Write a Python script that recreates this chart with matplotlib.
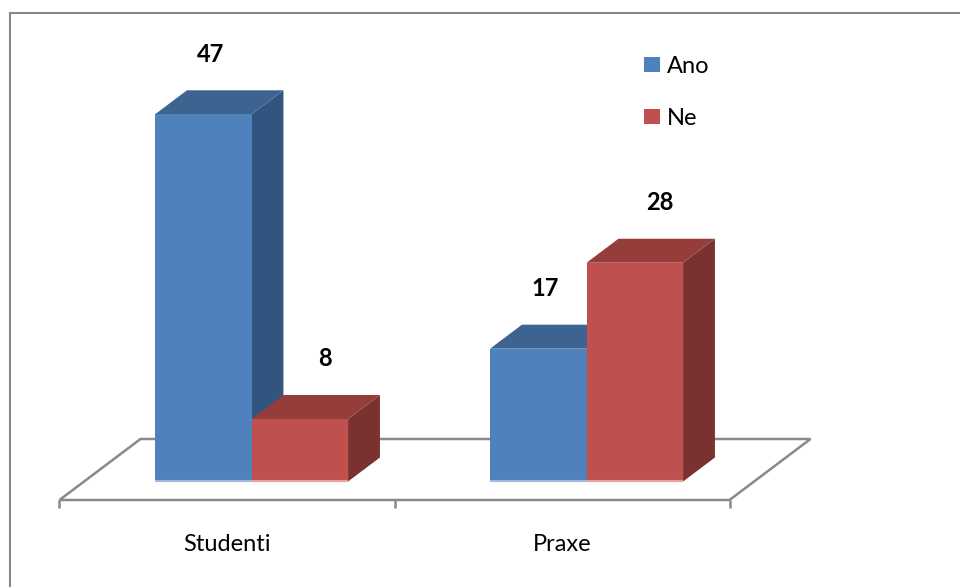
import matplotlib
matplotlib.use('Agg')
import matplotlib.pyplot as plt
from matplotlib.patches import Polygon, Rectangle

# data
categories = ['Studenti', 'Praxe']
series = ['Ano', 'Ne']
ano = [47, 17]
ne = [8, 28]
values = [ano, ne]

front_col = ['#4F81BD', '#C0504D']
top_col = ['#3D6491', '#943D3B']
side_col = ['#32557F', '#7A3130']
edge_col = ['#9DBAE0', '#E8A3A1']

plt.rcParams['font.family'] = ['Lato', 'DejaVu Sans']
FS = 17

# pixel scale of the drawing (x: category units, y: value units)
PX_X = 335.0
PX_Y = 7.813
depth = (81 / PX_X, 61 / PX_Y)      # full floor depth
f0, f1 = 18.5 / 61, 42.5 / 61       # bar front/back inside floor
bar_w = 96.5 / PX_X

fig = plt.figure(figsize=(9.6, 5.87), dpi=100)
ax = fig.add_axes([0, 0, 1, 1])
ax.axis('off')
ax.set_xlim(-59.5 / PX_X, (960 - 59.5) / PX_X)
ax.set_ylim((481.5 - 587) / PX_Y, 481.5 / PX_Y)

# floor
fy = -f0 * depth[1]
n = len(categories)
floor = Polygon([(0, fy), (n, fy), (n + depth[0], fy + depth[1]), (depth[0], fy + depth[1])],
                closed=True, facecolor='white', edgecolor='#898989', lw=1.8, zorder=1)
ax.add_patch(floor)
for i in range(n + 1):
    ax.plot([i, i], [fy, fy - 8 / PX_Y], color='#898989', lw=1.8, zorder=1,
            solid_capstyle='butt')
for i, cat in enumerate(categories):
    ax.text(i + 0.5, fy - 51 / PX_Y, cat, ha='center', va='baseline', fontsize=FS)

# 3d bars
ddx = (f1 - f0) * depth[0]
ddy = (f1 - f0) * depth[1]
sx = f0 * depth[0]
label_dx = [7 / PX_X, 25 / PX_X]
for i in range(n):
    for j in range(len(series)):
        v = values[j][i]
        x0 = i + 0.5 + sx - bar_w + j * bar_w
        x1 = x0 + bar_w
        z = 2 + j
        ax.add_patch(Polygon([(x1, 0), (x1 + ddx, ddy), (x1 + ddx, v + ddy), (x1, v)],
                             closed=True, facecolor=side_col[j], edgecolor='none', zorder=z))
        ax.add_patch(Polygon([(x0, v), (x1, v), (x1 + ddx, v + ddy), (x0 + ddx, v + ddy)],
                             closed=True, facecolor=top_col[j], edgecolor='none', zorder=z))
        ax.add_patch(Rectangle((x0, 0), bar_w, v, facecolor=front_col[j],
                               edgecolor='none', zorder=z))
        ax.plot([x0, x1], [0.12, 0.12], color=edge_col[j], lw=1.5, zorder=z,
                solid_capstyle='butt')
        ax.text(x0 + bar_w / 2 + label_dx[j], v + 60 / PX_Y, str(v), ha='center',
                va='center', fontsize=FS, fontweight='bold')

# legend
handles = [Rectangle((0, 0), 1, 1, facecolor=c) for c in front_col]
ax.legend(handles, series, loc='upper left', bbox_to_anchor=(644 / 960, 1 - 56 / 587),
          bbox_transform=fig.transFigure, frameon=False, fontsize=FS, borderpad=0,
          handlelength=0.66, handleheight=0.62, handletextpad=0.3, labelspacing=1.3,
          borderaxespad=0)

# chart border
fig.patches.append(Rectangle((10 / 960, -0.1), 1.1, 1.1 - 13 / 587, transform=fig.transFigure,
                             fill=False, edgecolor='#868686', lw=1.5))

fig.savefig('out.png', dpi=100)
